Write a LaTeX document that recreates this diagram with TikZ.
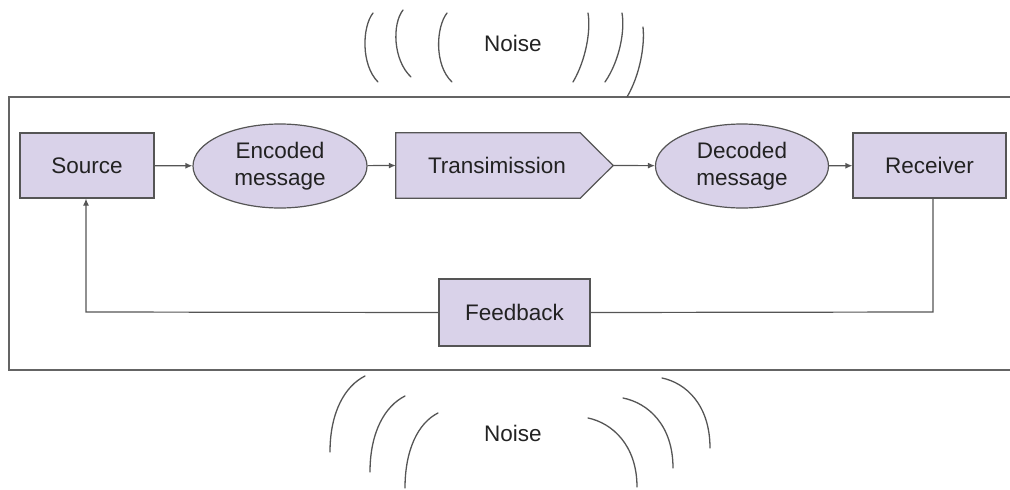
\documentclass[tikz,border=0pt]{standalone}
\usepackage{fontspec}
\setmainfont{Liberation Sans}
\usetikzlibrary{shapes.geometric,arrows.meta,backgrounds,calc}
\definecolor{boxfill}{RGB}{217,210,233}
\definecolor{boxline}{RGB}{85,85,85}
\definecolor{txt}{RGB}{34,34,34}
\definecolor{framecol}{RGB}{100,100,100}
\tikzset{
  every node/.style={font=\fontsize{22.5}{27}\selectfont, text=txt, align=center},
  rectbox/.style={draw=boxline, fill=boxfill, line width=1.2pt, rectangle, inner sep=0pt},
  ellbox/.style={draw=boxline, fill=boxfill, line width=1.2pt, ellipse, inner sep=0pt},
  conn/.style={draw=boxline, line width=1.2pt},
  arr/.style={conn, -{Latex[length=7pt,width=6pt]}},
  noisearc/.style={draw=boxline, line width=1.3pt, line cap=round},
}
\begin{document}
\begin{tikzpicture}[x=1pt,y=-1pt]
\useasboundingbox (0,0) rectangle (1010,490);
% frame
\draw[framecol, line width=1.6pt] (1010,97) -- (9,97) -- (9,370) -- (1010,370);

% nodes
\node[rectbox, minimum width=134pt, minimum height=65pt] (src) at (87,165.5) {Source};
\node[ellbox, minimum width=174pt, minimum height=84pt] (enc) at (280,166) {Encoded\\message};
\node[rectangle, inner sep=0pt, minimum width=217pt, minimum height=65pt] (trans) at (504.5,165.5) {\hspace*{-15pt}Transimission};
\begin{scope}[on background layer]
\draw[rectbox] (trans.north west) -- ($(trans.north east)+(-33,0)$) -- (trans.east) -- ($(trans.south east)+(-33,0)$) -- (trans.south west) -- cycle;
\end{scope}
\node[ellbox, minimum width=173pt, minimum height=84pt] (dec) at (742,166) {Decoded\\message};
\node[rectbox, minimum width=153pt, minimum height=65pt] (rec) at (929.5,165.5) {Receiver};
\node[rectbox, minimum width=151pt, minimum height=67pt] (fb) at (514.5,312.5) {Feedback};

\coordinate (rdown) at (933,312);
\coordinate (ldown) at (86,312);

% connectors
\draw[arr] (src) -- (enc);
\draw[arr] (enc) -- (trans.west);
\draw[arr] (trans.east) -- (dec);
\draw[arr] (dec) -- (rec);
\draw[conn] (rec.south -| rdown) -- (rdown) -- (fb.east);
\draw[arr] (fb.west) -- (ldown) -- (src.south -| ldown);

% noise labels
\node (n1) at (513,43) {Noise};
\node (n2) at (513,433) {Noise};

% top noise arcs
\draw[noisearc] (373,13) .. controls (362,27) and (361,65) .. (378,82);
\draw[noisearc] (403,10) .. controls (392,24) and (393,60) .. (411,77);
\draw[noisearc] (447,13) .. controls (436,27) and (434,65) .. (452,82);
\draw[noisearc] (588,13) .. controls (591,30) and (586,60) .. (573,82);
\draw[noisearc] (622,13) .. controls (625,30) and (620,60) .. (605,82);
\draw[noisearc] (643,27) .. controls (645,45) and (640,75) .. (627,97);

% bottom noise arcs
\draw[noisearc] (365,376) .. controls (345,386) and (330,412) .. (330,452);
\draw[noisearc] (405,396) .. controls (385,406) and (370,432) .. (370,472);
\draw[noisearc] (438,413) .. controls (418,423) and (405,450) .. (405,488);
\draw[noisearc] (588,418) .. controls (612,423) and (637,445) .. (637,487);
\draw[noisearc] (623,398) .. controls (648,403) and (673,425) .. (673,468);
\draw[noisearc] (662,378) .. controls (686,383) and (710,405) .. (710,448);
\end{tikzpicture}
\end{document}
